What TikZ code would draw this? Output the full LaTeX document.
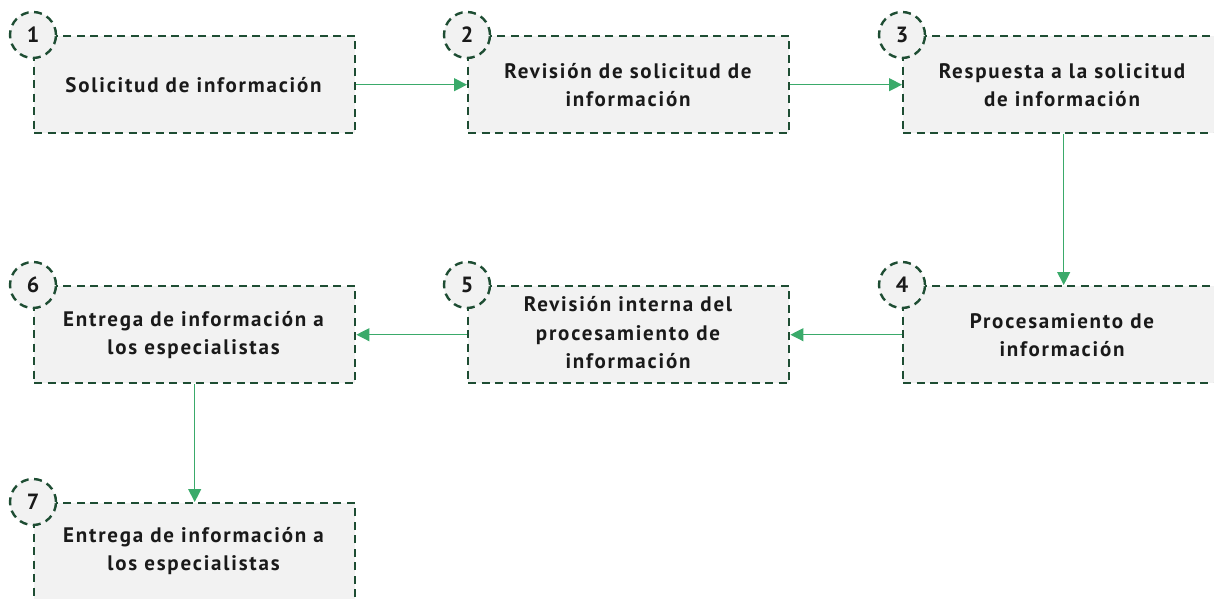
\documentclass[tikz,border=0pt]{standalone}
\usepackage{fontspec}
\setmainfont{PT Sans}
\newfontfamily\boxfont[LetterSpace=8.5]{PT Sans}
\usetikzlibrary{arrows.meta}
\definecolor{boxfill}{HTML}{F2F2F2}
\definecolor{boxline}{HTML}{1E4D33}
\definecolor{arrowgreen}{HTML}{3AAA6A}
\definecolor{txt}{HTML}{1A1A1A}
\tikzset{
  stepbox/.style={draw=boxline, fill=boxfill, line width=2.4pt, dash pattern=on 8pt off 5.5pt,
    minimum width=321pt, minimum height=97pt, anchor=north west, inner sep=0pt},
  steptext/.style={text=txt, font=\boxfont\bfseries\fontsize{21}{28.5}\selectfont, align=center},
  numcirc/.style={circle, draw=boxline, fill=boxfill, line width=2.4pt, dash pattern=on 8pt off 5.5pt,
    minimum size=46pt, inner sep=0pt, text=txt, font=\bfseries\fontsize{22}{24}\selectfont},
  flow/.style={draw=arrowgreen, line width=1.2pt, -{Triangle[length=13pt,width=13pt]}}
}
\begin{document}
\begin{tikzpicture}[x=1pt,y=1pt]
\useasboundingbox (0,0) rectangle (1214,598);
\clip (0,0) rectangle (1214,598);
% boxes (y = 598 - pixel y)
\node[stepbox] (b1) at (33,563) {};
\node[stepbox] (b2) at (467,563) {};
\node[stepbox] (b3) at (902,563) {};
\node[stepbox] (b4) at (902,313) {};
\node[stepbox] (b5) at (467,313) {};
\node[stepbox] (b6) at (33,313) {};
\node[stepbox] (b7) at (33,96) {};
% texts
\node[steptext] (t1) at (193.5,513) {Solicitud de información};
\node[steptext] (t2) at (628,513) {Revisión de solicitud de\\información};
\node[steptext] (t3) at (1062,513) {Respuesta a la solicitud\\de información};
\node[steptext] (t4) at (1062,263) {Procesamiento de\\información};
\node[steptext] (t5) at (628,265) {Revisión interna del\\procesamiento de\\información};
\node[steptext] (t6) at (193.5,263) {Entrega de información a\\los especialistas};
\node[steptext] (t7) at (193.5,47) {Entrega de información a\\los especialistas};
% arrows
\draw[flow] (b1.east) -- (b2.west);
\draw[flow] (b2.east) -- (b3.west);
\draw[flow] (b3.south) -- (b4.north);
\draw[flow] (b4.west) -- (b5.east);
\draw[flow] (b5.west) -- (b6.east);
\draw[flow] (b6.south) -- (b7.north);
% number circles
\node[numcirc] (c1) at (b1.north west) {1};
\node[numcirc] (c2) at (b2.north west) {2};
\node[numcirc] (c3) at (b3.north west) {3};
\node[numcirc] (c4) at (b4.north west) {4};
\node[numcirc] (c5) at (b5.north west) {5};
\node[numcirc] (c6) at (b6.north west) {6};
\node[numcirc] (c7) at (b7.north west) {7};
\end{tikzpicture}
\end{document}
